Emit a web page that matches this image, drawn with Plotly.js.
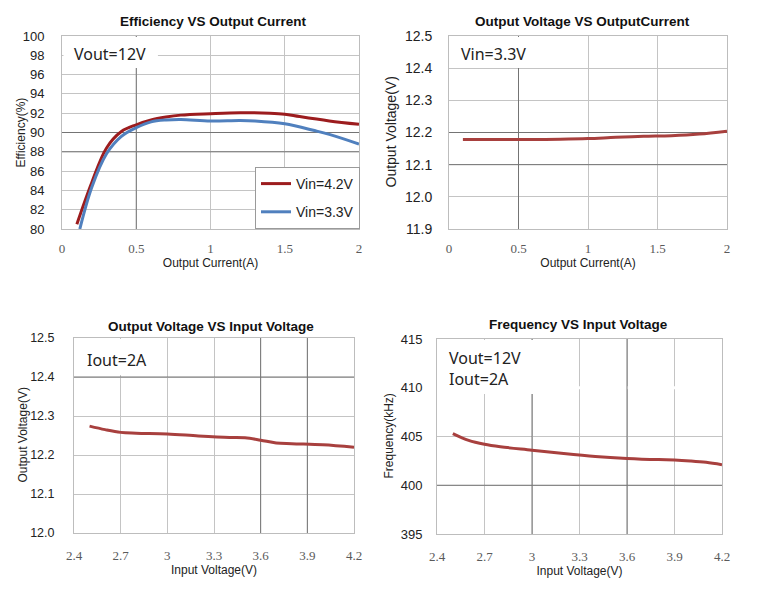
<!DOCTYPE html>
<html>
<head>
<meta charset="utf-8">
<script src="https://cdn.plot.ly/plotly-3.0.1.min.js"></script>
<style>html,body{margin:0;padding:0;background:#fff;}#chart{width:765px;height:600px;}</style>
</head>
<body>
<div id="chart"></div>
<script>
// ---- Data ----
// Chart 1: Efficiency vs Output Current
const effCurrent42 = [0.1, 0.2, 0.3, 0.4, 0.5, 0.6, 0.7, 0.8, 1.0, 1.2, 1.4, 1.5, 1.6, 1.8, 2.0];
const effVin42     = [80.5, 84.8, 88.4, 90.1, 90.8, 91.3, 91.6, 91.8, 91.95, 92.05, 92.0, 91.9, 91.65, 91.2, 90.85];
const effCurrent33 = [0.12, 0.2, 0.3, 0.4, 0.5, 0.6, 0.7, 0.8, 1.0, 1.2, 1.3, 1.5, 1.7, 1.8, 2.0];
const effVin33     = [80.0, 84.3, 87.8, 89.6, 90.5, 91.1, 91.3, 91.35, 91.2, 91.25, 91.2, 90.9, 90.2, 89.8, 88.8];
// Chart 2: Output Voltage vs Output Current (Vin=3.3V)
const voutCurrent = [0.1, 0.2, 0.4, 0.6, 0.8, 1.0, 1.2, 1.4, 1.6, 1.8, 2.0];
const voutVsIout  = [12.178, 12.178, 12.178, 12.178, 12.179, 12.181, 12.185, 12.188, 12.19, 12.195, 12.204];
// Chart 3: Output Voltage vs Input Voltage (Iout=2A)
const vinA      = [2.5, 2.6, 2.7, 2.8, 3.0, 3.2, 3.4, 3.5, 3.6, 3.7, 3.8, 4.0, 4.2];
const voutVsVin = [12.274, 12.265, 12.258, 12.256, 12.254, 12.249, 12.245, 12.244, 12.238, 12.231, 12.229, 12.226, 12.22];
// Chart 4: Frequency vs Input Voltage
const vinB      = [2.5, 2.6, 2.7, 2.8, 3.0, 3.2, 3.4, 3.6, 3.8, 3.9, 4.0, 4.1, 4.2];
const freqVsVin = [405.3, 404.6, 404.2, 403.95, 403.6, 403.25, 402.95, 402.75, 402.63, 402.6, 402.5, 402.35, 402.1];

// Texts
const chartTitles = ['Efficiency VS Output Current', 'Output Voltage VS OutputCurrent', 'Output Voltage VS Input Voltage', 'Frequency VS Input Voltage'];
const seriesNames = ['Vin=4.2V', 'Vin=3.3V'];
const xTitles = ['Output Current(A)', 'Output Current(A)', 'Input Voltage(V)', 'Input Voltage(V)'];
const yTitles = ['Efficiency(%)', 'Output Voltage(V)', 'Output Voltage(V)', 'Frequency(kHz)'];
const notes = ['Vout=12V', 'Vin=3.3V', 'Iout=2A', 'Vout=12V<br>Iout=2A'];

// Darker gridlines (style) per chart
const darkX1 = [0.5], darkY1 = [88, 90];
const darkX2 = [0.5], darkY2 = [12.1, 12.2];
const darkX3 = [3.6, 3.9], darkY3 = [12.4];
const darkX4 = [3.0, 3.6], darkY4 = [400];
const hiddenY4 = [410];   // chart 4 shows no gridline at 410

// ---- Styles ----
const RED = '#9C1C1E', BLUE = '#5080BE', BROWN = '#A8403E';
const GRID = '#c4c4c4', DARK = '#747474', BORDER = '#bdbdbd';
const SANS = 'Liberation Sans, Arial, sans-serif';
const SERIF = 'Liberation Serif, Times New Roman, serif';

const traces = [
  {x: effCurrent42, y: effVin42, name: seriesNames[0], type: 'scatter', mode: 'lines', line: {color: RED, width: 3, shape: 'spline'}, xaxis: 'x', yaxis: 'y', legendgroup: 'a'},
  {x: effCurrent33, y: effVin33, name: seriesNames[1], type: 'scatter', mode: 'lines', line: {color: BLUE, width: 3, shape: 'spline'}, xaxis: 'x', yaxis: 'y', legendgroup: 'b'},
  {x: voutCurrent, y: voutVsIout, name: 'Vout', type: 'scatter', mode: 'lines', line: {color: BROWN, width: 3, shape: 'spline'}, xaxis: 'x2', yaxis: 'y2', showlegend: false},
  {x: vinA, y: voutVsVin, name: 'Vout', type: 'scatter', mode: 'lines', line: {color: BROWN, width: 3, shape: 'spline'}, xaxis: 'x3', yaxis: 'y3', showlegend: false},
  {x: vinB, y: freqVsVin, name: 'Freq', type: 'scatter', mode: 'lines', line: {color: BROWN, width: 3, shape: 'spline'}, xaxis: 'x4', yaxis: 'y4', showlegend: false}
];

function px2x(p) { return p / 765; }
function px2y(p) { return 1 - p / 600; }

function xa(dom, range, dtick, anchor, title, lblStand) {
  return {
    domain: dom, range: range, dtick: dtick, tick0: range[0], anchor: anchor,
    showgrid: true, gridcolor: GRID, gridwidth: 1, zeroline: false,
    showline: true, linecolor: BORDER, linewidth: 1, mirror: true,
    ticks: '', ticklabelstandoff: lblStand,
    tickfont: {family: SERIF, size: 13, color: '#5a5a5a'},
    title: {text: title, font: {family: SANS, size: 12, color: '#222'}, standoff: 2},
    fixedrange: true
  };
}
function ya(dom, range, dtick, anchor, tickfs, fmt, lblStand) {
  return {
    domain: dom, range: range, dtick: dtick, tick0: range[0], anchor: anchor,
    showgrid: true, gridcolor: GRID, gridwidth: 1, zeroline: false,
    showline: true, linecolor: BORDER, linewidth: 1, mirror: true,
    ticks: '', tickformat: fmt, ticklabelstandoff: lblStand,
    tickfont: {family: SANS, size: tickfs, color: '#222'},
    fixedrange: true
  };
}

const r1x = [0, 2], r1y = [80, 100];
const r2x = [0, 2], r2y = [11.9, 12.5];
const r3x = [2.4, 4.2], r3y = [12.0, 12.5];
const r4x = [2.4, 4.2], r4y = [395, 415];

const dom1x = [px2x(62), px2x(359)],  dom1y = [px2y(229), px2y(36)];
const dom2x = [px2x(449), px2x(727)], dom2y = [px2y(229), px2y(36)];
const dom3x = [px2x(74), px2x(354)],  dom3y = [px2y(533), px2y(338)];
const dom4x = [px2x(437), px2x(722)], dom4y = [px2y(534), px2y(339)];

const shapes = [];
// emphasised / hidden gridlines, drawn between the grid and the traces
function vlines(vals, xr, yr, yrange, color, w) {
  vals.forEach(v => shapes.push({type: 'line', layer: 'between', xref: xr, yref: yr, x0: v, x1: v, y0: yrange[0], y1: yrange[1], line: {color: color, width: w}}));
}
function hlines(vals, xr, yr, xrange, color, w) {
  vals.forEach(v => shapes.push({type: 'line', layer: 'between', xref: xr, yref: yr, x0: xrange[0], x1: xrange[1], y0: v, y1: v, line: {color: color, width: w}}));
}
hlines(hiddenY4, 'x4', 'y4', r4x, '#ffffff', 3);
vlines(darkX1, 'x', 'y', r1y, DARK, 1);    hlines(darkY1, 'x', 'y', r1x, DARK, 1);
vlines(darkX2, 'x2', 'y2', r2y, DARK, 1);  hlines(darkY2, 'x2', 'y2', r2x, DARK, 1);
vlines(darkX3, 'x3', 'y3', r3y, DARK, 1);  hlines(darkY3, 'x3', 'y3', r3x, DARK, 1);
vlines(darkX4, 'x4', 'y4', r4y, DARK, 1);  hlines(darkY4, 'x4', 'y4', r4x, DARK, 1);

// white boxes behind the in-plot notes
function box(xr, yr, x1, y0) {
  shapes.push({type: 'rect', layer: 'above', xref: xr + ' domain', yref: yr + ' domain', x0: 0.005, x1: x1, y0: y0, y1: 0.995, fillcolor: '#ffffff', line: {width: 0}});
}
box('x', 'y', 0.323, 0.834);
box('x2', 'y2', 0.327, 0.834);
box('x3', 'y3', 0.29, 0.81);
box('x4', 'y4', 0.40, 0.718);

const annotations = [];
function title(text, cx, cy) {
  annotations.push({text: '<b>' + text + '</b>', xref: 'paper', yref: 'paper', x: px2x(cx), y: px2y(cy), xanchor: 'center', yanchor: 'middle', showarrow: false, font: {family: SANS, size: 13.5, color: '#111'}});
}
title(chartTitles[0], 213, 22);
title(chartTitles[1], 582, 22);
title(chartTitles[2], 211, 326);
title(chartTitles[3], 578, 324);
function ytitle(text, cx, cy, fs) {
  annotations.push({text: text, xref: 'paper', yref: 'paper', x: px2x(cx), y: px2y(cy), xanchor: 'center', yanchor: 'middle', textangle: -90, showarrow: false, font: {family: SANS, size: fs, color: '#222'}});
}
ytitle(yTitles[0], 20, 132.5, 12);
ytitle(yTitles[1], 390, 132.5, 14);
ytitle(yTitles[2], 22, 435.5, 12);
ytitle(yTitles[3], 388, 436.5, 12);
function note(text, lx, ty) {
  annotations.push({text: text, xref: 'paper', yref: 'paper', x: px2x(lx), y: px2y(ty), xanchor: 'left', yanchor: 'top', align: 'left', showarrow: false, font: {family: 'Noto Sans, sans-serif', size: 16, color: '#222'}});
}
note(notes[0], 72, 41);
note(notes[1], 459, 41);
note(notes[2], 85, 347);
note(notes[3], 447, 345);

const layout = {
  width: 765, height: 600, autosize: false,
  margin: {l: 0, r: 0, t: 0, b: 0},
  paper_bgcolor: '#fff', plot_bgcolor: '#fff',
  font: {family: SANS, color: '#222'},
  showlegend: true,
  legend: {x: px2x(360), y: px2y(229), xanchor: 'right', yanchor: 'bottom', bgcolor: '#fff', bordercolor: '#9a9a9a', borderwidth: 1,
           font: {family: SANS, size: 14, color: '#222'}, traceorder: 'grouped', tracegroupgap: 7, itemwidth: 30},
  xaxis:  xa(dom1x, r1x, 0.5, 'y', xTitles[0], 7),
  yaxis:  ya(dom1y, r1y, 2, 'x', 13, '', 14),
  xaxis2: xa(dom2x, r2x, 0.5, 'y2', xTitles[1], 7),
  yaxis2: ya(dom2y, r2y, 0.1, 'x2', 14, '.1f', 13),
  xaxis3: xa(dom3x, r3x, 0.3, 'y3', xTitles[2], 10),
  yaxis3: ya(dom3y, r3y, 0.1, 'x3', 12.5, '.1f', 16),
  xaxis4: xa(dom4x, r4x, 0.3, 'y4', xTitles[3], 10),
  yaxis4: ya(dom4y, r4y, 5, 'x4', 13, '', 11),
  shapes: shapes,
  annotations: annotations
};

Plotly.newPlot('chart', traces, layout, {displayModeBar: false, staticPlot: true});
</script>
</body>
</html>
